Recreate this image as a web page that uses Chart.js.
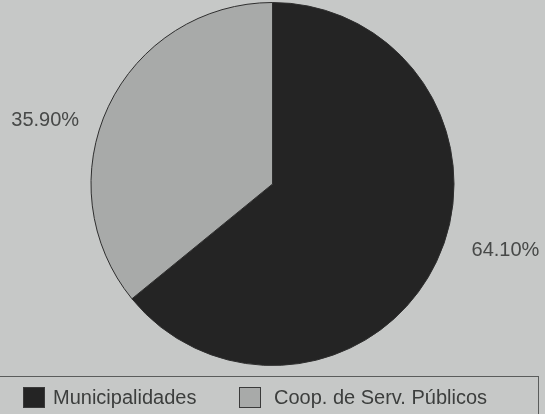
<!DOCTYPE html>
<html>
<head>
<meta charset="utf-8">
<script src="https://cdn.jsdelivr.net/npm/chart.js@4"></script>
<style>
html,body{margin:0;padding:0;background:#c6c8c7;width:545px;height:414px;overflow:hidden;}
#wrap{position:relative;width:545px;height:414px;}
canvas{position:absolute;left:0;top:0;}
#legend{position:absolute;left:-3px;top:376px;width:542px;height:44px;border:1.5px solid #5a5c5b;box-sizing:border-box;font-family:"Liberation Sans",Arial,sans-serif;font-size:20px;color:#3c3e3d;}
.sw{position:absolute;top:10px;width:22px;height:21px;box-sizing:border-box;border:1.5px solid #3a3a3a;}
.tx{position:absolute;top:10px;line-height:21px;white-space:nowrap;}
</style>
</head>
<body>
<div id="wrap">
<canvas id="c" width="545" height="414"></canvas>
<div id="legend"></div>
</div>
<script>
const categories = ["Municipalidades", "Coop. de Serv. Públicos"];
const values = [64.10, 35.90];
const valueLabels = ["64.10%", "35.90%"];
const colors = ["#242424", "#a8aaa9"];

const labelPlugin = {
  id: 'outLabels',
  afterDatasetsDraw(chart) {
    const ctx = chart.ctx;
    const meta = chart.getDatasetMeta(0);
    ctx.save();
    ctx.font = '20px "Liberation Sans", Arial, sans-serif';
    ctx.fillStyle = '#474948';
    ctx.textAlign = 'center';
    ctx.textBaseline = 'middle';
    const offs = [9.4, 9.8];
    const rads = [1.335, 1.30];
    meta.data.forEach((arc, i) => {
      const p = arc.getProps(['x','y','startAngle','endAngle','outerRadius'], true);
      const mid = (p.startAngle + p.endAngle) / 2 - offs[i] * Math.PI / 180;
      const r = p.outerRadius * rads[i];
      ctx.fillText(valueLabels[i], p.x + Math.cos(mid) * r, p.y + Math.sin(mid) * r);
    });
    ctx.restore();
  }
};

new Chart(document.getElementById('c'), {
  type: 'pie',
  data: {
    labels: categories,
    datasets: [{
      data: values,
      backgroundColor: colors,
      borderColor: '#2e2e2e',
      borderWidth: 1
    }]
  },
  options: {
    responsive: false,
    animation: false,
    layout: { padding: { top: 2, bottom: 48, left: 0, right: 0 } },
    plugins: { legend: { display: false }, tooltip: { enabled: false } }
  },
  plugins: [labelPlugin]
});

const lg = document.getElementById('legend');
const pos = [[25, 55], [241, 276]];
categories.forEach((c, i) => {
  const s = document.createElement('div');
  s.className = 'sw';
  s.style.left = pos[i][0] + 'px';
  s.style.background = colors[i];
  lg.appendChild(s);
  const t = document.createElement('div');
  t.className = 'tx';
  t.style.left = pos[i][1] + 'px';
  t.textContent = c;
  lg.appendChild(t);
});
</script>
</body>
</html>
